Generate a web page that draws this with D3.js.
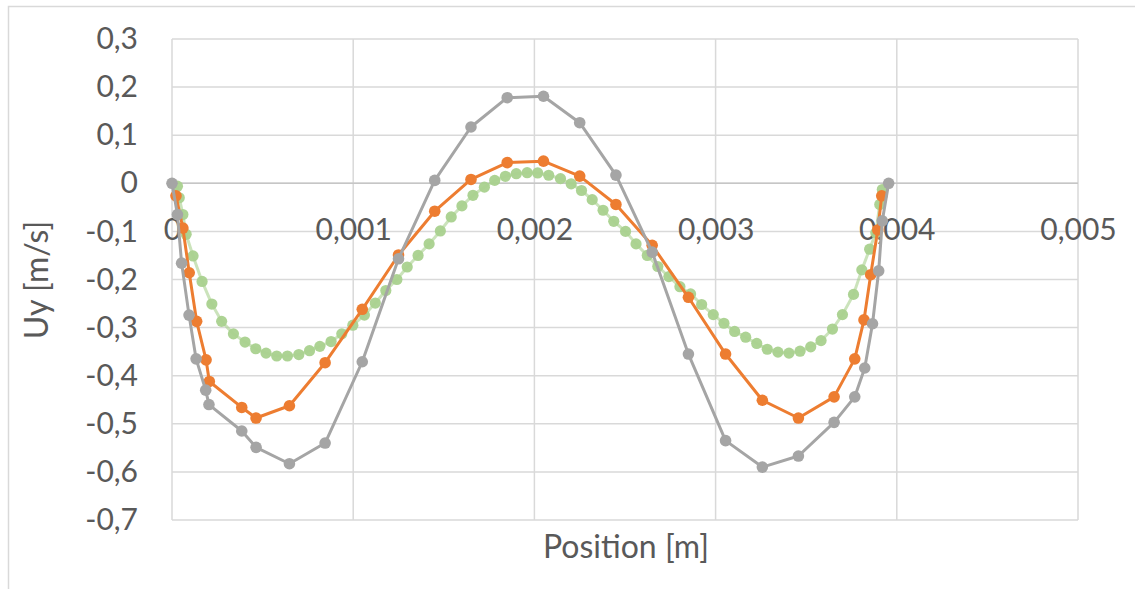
<!DOCTYPE html>
<html>
<head>
<meta charset="utf-8">
<script src="https://cdn.jsdelivr.net/npm/d3@7"></script>
<style>
  html, body { margin: 0; padding: 0; background: #ffffff; }
  svg { display: block; }
  text { font-family: Lato, "Open Sans", sans-serif; fill: #595959; }
</style>
</head>
<body>
<svg id="chart" width="1135" height="589"></svg>
<script>
// Velocity profile Uy along the position, three series
const xTickValues = [0, 0.001, 0.002, 0.003, 0.004, 0.005];
const xTickLabels = ["0", "0,001", "0,002", "0,003", "0,004", "0,005"];
const yTickValues = [0.3, 0.2, 0.1, 0, -0.1, -0.2, -0.3, -0.4, -0.5, -0.6, -0.7];
const yTickLabels = ["0,3", "0,2", "0,1", "0", "-0,1", "-0,2", "-0,3", "-0,4", "-0,5", "-0,6", "-0,7"];

const seriesGreen = [
  [0.00003, -0.006], [0.00004, -0.030], [0.00006, -0.065], [0.000078, -0.106],
  [0.000116, -0.151], [0.000166, -0.204], [0.00022, -0.251], [0.000274, -0.287],
  [0.000339, -0.313], [0.000403, -0.330], [0.000462, -0.344], [0.000519, -0.353],
  [0.000578, -0.359], [0.000637, -0.359], [0.0007, -0.356], [0.000759, -0.348],
  [0.000816, -0.339], [0.000878, -0.329], [0.000937, -0.313], [0.000998, -0.295],
  [0.001062, -0.274], [0.001122, -0.249], [0.00118, -0.223], [0.001241, -0.200],
  [0.001298, -0.174], [0.001358, -0.150], [0.001419, -0.126], [0.001481, -0.099],
  [0.001541, -0.070], [0.0016, -0.047], [0.001661, -0.025], [0.001724, -0.008],
  [0.001781, 0.006], [0.00184, 0.0146], [0.0019, 0.020], [0.00196, 0.022],
  [0.002018, 0.0215], [0.002079, 0.0167], [0.002144, 0.0097], [0.002203, -0.001],
  [0.00226, -0.015], [0.002319, -0.034], [0.002379, -0.056], [0.002438, -0.079],
  [0.002503, -0.100], [0.002561, -0.126], [0.002623, -0.150], [0.002681, -0.173],
  [0.002742, -0.194], [0.002803, -0.215], [0.002862, -0.230], [0.002923, -0.252],
  [0.002987, -0.273], [0.003046, -0.291], [0.003105, -0.308], [0.003166, -0.320],
  [0.003227, -0.333], [0.003285, -0.345], [0.003344, -0.351], [0.003405, -0.353],
  [0.003466, -0.349], [0.003525, -0.340], [0.003582, -0.327], [0.003645, -0.303],
  [0.0037, -0.273], [0.003761, -0.231], [0.003807, -0.180], [0.00385, -0.137],
  [0.003884, -0.103], [0.003906, -0.044], [0.00392, -0.013]
];

const seriesOrange = [
  [0.000022, -0.026], [0.00006, -0.093], [0.000095, -0.186], [0.000136, -0.287],
  [0.000188, -0.367], [0.000206, -0.412], [0.000385, -0.466], [0.000464, -0.488],
  [0.000648, -0.4625], [0.000845, -0.373], [0.00105, -0.262], [0.00125, -0.149],
  [0.00145, -0.058], [0.00165, 0.008], [0.00185, 0.043], [0.00205, 0.046],
  [0.00225, 0.015], [0.00245, -0.044], [0.00265, -0.129], [0.00285, -0.237],
  [0.003055, -0.355], [0.003258, -0.451], [0.003457, -0.488], [0.003654, -0.444],
  [0.003768, -0.365], [0.003819, -0.284], [0.003856, -0.190], [0.003895, -0.097],
  [0.003917, -0.026]
];

const seriesGray = [
  [0, 0], [0.00003, -0.065], [0.000053, -0.166], [0.000094, -0.274],
  [0.000133, -0.365], [0.000186, -0.430], [0.000204, -0.460], [0.000385, -0.515],
  [0.000464, -0.549], [0.000648, -0.583], [0.000845, -0.540], [0.00105, -0.371],
  [0.00125, -0.157], [0.00145, 0.006], [0.00165, 0.117], [0.00185, 0.178],
  [0.00205, 0.181], [0.00225, 0.126], [0.00245, 0.017], [0.00265, -0.143],
  [0.00285, -0.355], [0.003055, -0.535], [0.003258, -0.590], [0.003457, -0.567],
  [0.003654, -0.497], [0.003768, -0.444], [0.003823, -0.384], [0.003866, -0.292],
  [0.0039, -0.182], [0.00392, -0.078], [0.003955, 0]
];

const svg = d3.select("#chart");
const W = 1135, H = 589;
const plot = { left: 172, right: 1078, top: 39, bottom: 520 };

const x = d3.scaleLinear().domain([0, 0.005]).range([plot.left, plot.right]);
const y = d3.scaleLinear().domain([-0.7, 0.3]).range([plot.bottom, plot.top]);

// outer chart frame
svg.append("rect")
  .attr("x", 8.5).attr("y", 6.5)
  .attr("width", W).attr("height", H)
  .attr("fill", "#ffffff").attr("stroke", "#d9d9d9").attr("stroke-width", 1.5);

// gridlines
const grid = svg.append("g").attr("stroke", "#d9d9d9").attr("stroke-width", 1.5);
grid.selectAll("line.h").data(yTickValues).join("line")
  .attr("class", "h")
  .attr("x1", plot.left).attr("x2", plot.right)
  .attr("y1", d => y(d)).attr("y2", d => y(d));
grid.selectAll("line.v").data(xTickValues).join("line")
  .attr("class", "v")
  .attr("y1", plot.top).attr("y2", plot.bottom)
  .attr("x1", d => x(d)).attr("x2", d => x(d));

// horizontal axis line crossing at zero
svg.append("line")
  .attr("x1", plot.left).attr("x2", plot.right)
  .attr("y1", y(0)).attr("y2", y(0))
  .attr("stroke", "#c6c6c6").attr("stroke-width", 1.5);

// y tick labels
const yAxis = d3.axisLeft(y).tickValues(yTickValues)
  .tickFormat((d, i) => yTickLabels[i]).tickSize(0).tickPadding(34);
const gy = svg.append("g").attr("transform", `translate(${plot.left},0)`).call(yAxis);
gy.select(".domain").remove();
gy.selectAll("text").attr("font-size", 30).attr("fill", "#595959")
  .attr("font-family", "Lato, 'Open Sans', sans-serif");

// x tick labels, placed under the zero line
const xAxis = d3.axisBottom(x).tickValues(xTickValues)
  .tickFormat((d, i) => xTickLabels[i]).tickSize(0).tickPadding(0);
const gx = svg.append("g").attr("transform", `translate(0,${y(0)})`).call(xAxis);
gx.select(".domain").remove();
gx.selectAll("text").attr("font-size", 30).attr("fill", "#595959")
  .attr("font-family", "Lato, 'Open Sans', sans-serif")
  .attr("dy", null).attr("y", 57);

// axis titles
svg.append("text")
  .attr("x", (plot.left + plot.right) / 2 + 1).attr("y", 558)
  .attr("text-anchor", "middle").attr("font-size", 32)
  .text("Position [m]");
svg.append("text")
  .attr("transform", "translate(48,280) rotate(-90)")
  .attr("text-anchor", "middle").attr("font-size", 32)
  .text("Uy [m/s]");

const line = d3.line().x(d => x(d[0])).y(d => y(d[1]));

function drawSeries(data, color, lineOpacity, markerOpacity, r) {
  const g = svg.append("g");
  g.append("path").datum(data)
    .attr("d", line).attr("fill", "none")
    .attr("stroke", color).attr("stroke-width", 3)
    .attr("stroke-linejoin", "round").attr("stroke-opacity", lineOpacity);
  g.selectAll("circle").data(data).join("circle")
    .attr("cx", d => x(d[0])).attr("cy", d => y(d[1]))
    .attr("r", r).attr("fill", color).attr("fill-opacity", markerOpacity);
}

drawSeries(seriesGreen, "#a9d18e", 0.6, 0.95, 5.6);
drawSeries(seriesOrange, "#ed7d31", 1, 1, 5.8);
drawSeries(seriesGray, "#a5a5a5", 1, 1, 5.8);
</script>
</body>
</html>
